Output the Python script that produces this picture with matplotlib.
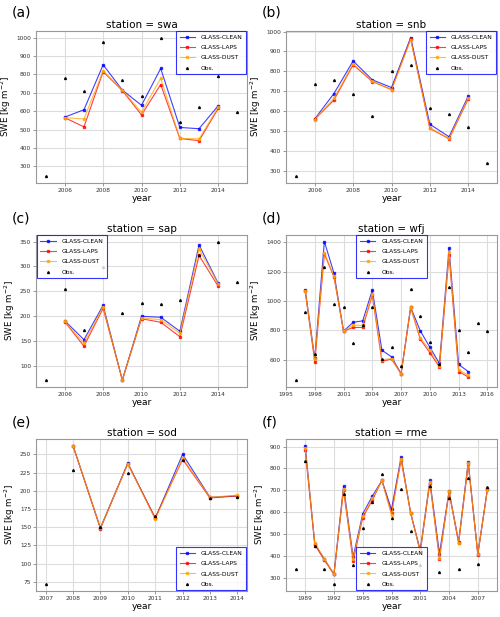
import matplotlib
matplotlib.use("Agg")
import matplotlib.pyplot as plt

# ---- swa ----
swa_years = list(range(2006, 2015))
swa_clean = [568, 608, 852, 715, 632, 832, 512, 505, 630]
swa_laps = [565, 515, 815, 712, 580, 745, 452, 440, 615]
swa_dust = [565, 558, 820, 715, 595, 778, 453, 450, 622]
swa_obs_years = list(range(2005, 2016))
swa_obs = [248, 778, 710, 978, 770, 680, 1000, 540, 622, 790, 595]

# ---- snb ----
snb_years = list(range(2006, 2015))
snb_clean = [560, 688, 852, 757, 718, 970, 533, 470, 675]
snb_laps = [558, 655, 833, 748, 708, 963, 512, 460, 660]
snb_dust = [557, 665, 838, 750, 706, 960, 515, 462, 665]
snb_obs_years = list(range(2005, 2016))
snb_obs = [272, 735, 757, 685, 573, 800, 833, 617, 587, 518, 337]

# ---- sap ----
sap_years = list(range(2006, 2015))
sap_clean = [191, 153, 222, 72, 200, 198, 170, 343, 266]
sap_laps = [189, 140, 216, 72, 195, 188, 159, 322, 260]
sap_dust = [190, 146, 219, 72, 197, 193, 166, 335, 265]
sap_obs_years = list(range(2005, 2016))
sap_obs = [73, 254, 172, 298, 206, 227, 224, 232, 323, 350, 269]

# ---- wfj ----
wfj_years = list(range(1997, 2015))
wfj_clean = [1078, 612, 1405, 1190, 795, 855, 865, 1075, 665, 620, 505, 957, 797, 685, 575, 1360, 568, 520]
wfj_laps = [1068, 585, 1320, 1165, 795, 820, 820, 1040, 590, 605, 505, 957, 740, 648, 550, 1310, 520, 483]
wfj_dust = [1068, 605, 1330, 1170, 795, 835, 835, 1050, 600, 608, 505, 957, 750, 665, 560, 1335, 530, 495]
wfj_obs_years = list(range(1996, 2017))
wfj_obs = [462, 925, 640, 1230, 980, 960, 715, 838, 960, 605, 690, 558, 1080, 895, 718, 570, 1095, 800, 655, 850, 795]

# ---- sod ----
sod_years = list(range(2008, 2015))
sod_clean = [262, 149, 238, 162, 250, 191, 193]
sod_laps = [262, 148, 237, 163, 243, 190, 193]
sod_dust = [262, 149, 237, 161, 245, 191, 194]
sod_obs_years = list(range(2007, 2015))
sod_obs = [72, 228, 150, 225, 165, 242, 190, 191]

# ---- rme ----
rme_years = list(range(1989, 2009))
rme_clean = [905, 455, 385, 315, 718, 395, 592, 673, 745, 612, 852, 595, 425, 745, 410, 695, 465, 830, 408, 705]
rme_laps = [885, 450, 380, 315, 700, 375, 575, 655, 745, 595, 840, 595, 418, 735, 385, 692, 458, 820, 405, 705]
rme_dust = [895, 458, 385, 315, 708, 385, 583, 663, 745, 585, 845, 595, 420, 740, 390, 695, 460, 825, 408, 703]
rme_obs_years = list(range(1988, 2009))
rme_obs = [340, 835, 445, 337, 270, 682, 357, 528, 645, 775, 575, 707, 515, 358, 720, 327, 663, 337, 757, 363, 715]

panels = [
    ("(a)", "swa", swa_years, swa_clean, swa_laps, swa_dust, swa_obs_years, swa_obs,
     range(2006, 2015, 2), range(300, 1001, 100), "upper right"),
    ("(b)", "snb", snb_years, snb_clean, snb_laps, snb_dust, snb_obs_years, snb_obs,
     range(2006, 2015, 2), range(300, 1001, 100), "upper right"),
    ("(c)", "sap", sap_years, sap_clean, sap_laps, sap_dust, sap_obs_years, sap_obs,
     range(2006, 2015, 2), range(100, 351, 50), "upper left"),
    ("(d)", "wfj", wfj_years, wfj_clean, wfj_laps, wfj_dust, wfj_obs_years, wfj_obs,
     range(1995, 2017, 3), range(600, 1401, 200), "upper center"),
    ("(e)", "sod", sod_years, sod_clean, sod_laps, sod_dust, sod_obs_years, sod_obs,
     range(2007, 2015), range(75, 251, 25), "lower right"),
    ("(f)", "rme", rme_years, rme_clean, rme_laps, rme_dust, rme_obs_years, rme_obs,
     range(1989, 2008, 3), range(300, 901, 100), "lower center"),
]

fig = plt.figure(figsize=(5, 6.17), dpi=100)

lefts = [0.072, 0.572]
bottoms = [0.7034, 0.3728, 0.0421]
width = 0.422
height = 0.247
letter_y = [1 - 13 / 617, 1 - 218 / 617, 1 - 423 / 617]

for i, (letter, name, yrs, clean, laps, dust, oyrs, obs, xt, yt, loc) in enumerate(panels):
    row, col = divmod(i, 2)
    ax = fig.add_axes([lefts[col], bottoms[row], width, height])
    ax.grid(True, color="#dddddd", linewidth=0.8)
    ax.set_axisbelow(True)
    ax.plot(yrs, clean, color="blue", marker="s", markersize=1.8, linewidth=0.8, alpha=0.75, label="GLASS-CLEAN")
    ax.plot(yrs, laps, color="red", marker="s", markersize=1.8, linewidth=0.8, alpha=0.75, label="GLASS-LAPS")
    ax.plot(yrs, dust, color="orange", marker="s", markersize=1.8, linewidth=0.8, alpha=0.75, label="GLASS-DUST")
    ax.plot(oyrs, obs, linestyle="none", color="black", marker="^", markersize=1.4, label="Obs.")
    ax.set_xticks(list(xt))
    ax.set_yticks(list(yt))
    ax.tick_params(labelsize=4.2, length=2, width=0.6, color="#888888", pad=1.5, labelcolor="#333333")
    for sp in ax.spines.values():
        sp.set_color("#999999")
        sp.set_linewidth(0.8)
    ax.set_title(f"station = {name}", fontsize=7.5, pad=2)
    ax.set_xlabel("year", fontsize=6.5, labelpad=1)
    ax.set_ylabel("SWE [kg m$^{-2}$]", fontsize=6.2, labelpad=2)
    leg = ax.legend(loc=loc, fontsize=4.3, fancybox=False, framealpha=0.8,
                    borderpad=0.6, handlelength=2.6, handletextpad=1.0,
                    labelspacing=0.85, borderaxespad=0.1)
    leg.get_frame().set_edgecolor("blue")
    leg.get_frame().set_linewidth(0.8)
    fig.text(0.024 + 0.5 * col, letter_y[row], letter, fontsize=10, va="center", ha="left")

fig.savefig("out.png", dpi=100)
